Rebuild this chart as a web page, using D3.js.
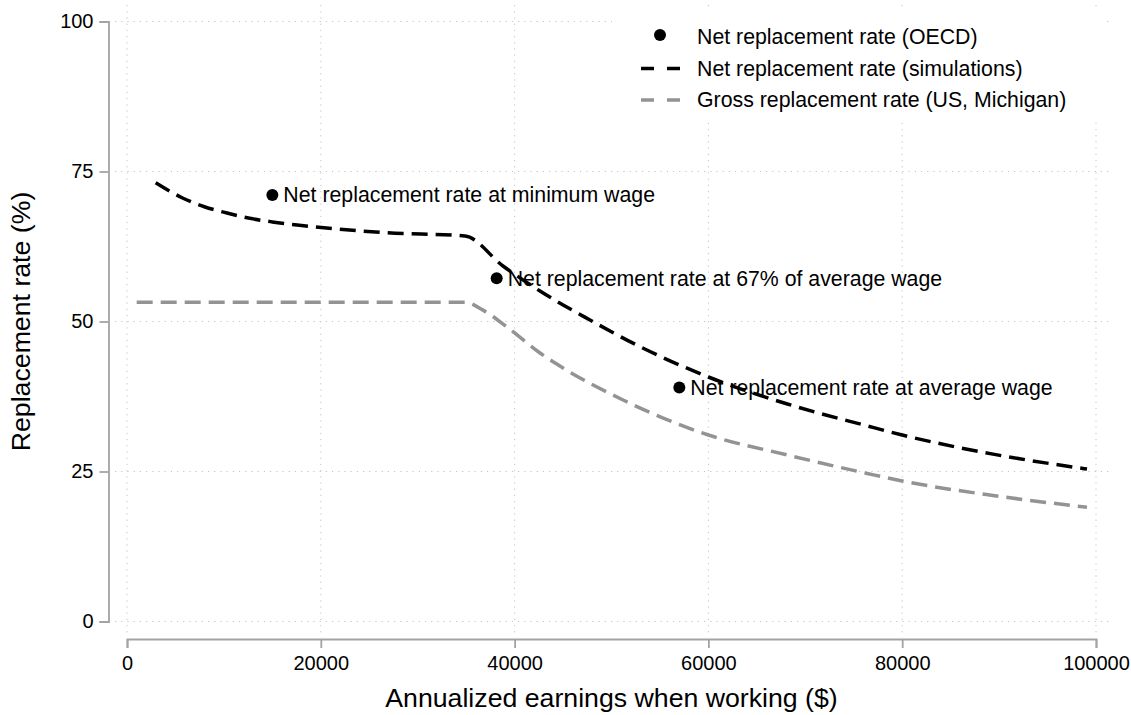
<!DOCTYPE html>
<html>
<head>
<meta charset="utf-8">
<script src="https://cdn.jsdelivr.net/npm/d3@7"></script>
<style>
  body { margin: 0; background: #fff; }
  text { font-family: "Liberation Sans", Arial, Helvetica, sans-serif; fill: #000; }
</style>
</head>
<body>
<script>
// net replacement rate, simulations (black dashed)
var netX = [2960, 5680, 7980, 10320, 12660, 15000, 17570, 26800, 34880, 38800, 42620, 47780, 52600, 60000, 68150, 76400, 80000, 89370, 99070]
var netY = [73.13, 70.63, 69.13, 68.08, 67.2, 66.6, 66.08, 64.8, 64.25, 59.25, 55.08, 50.25, 46.08, 40.75, 36.25, 32.6, 31.08, 27.9, 25.4]

// gross replacement rate, US Michigan (grey dashed)
var grossX = [1000, 34880, 36740, 39180, 42620, 45000, 51190, 60000, 68150, 76400, 80000, 89370, 99070]
var grossY = [53.2, 53.2, 51.9, 49.13, 44.75, 42.25, 36.92, 31.08, 27.75, 24.67, 23.42, 21.0, 19.05]

// OECD points
var oecdX = [15000, 38150, 57000]
var oecdY = [71.1, 57.2, 39.0]
var oecdLabels = ["Net replacement rate at minimum wage", "Net replacement rate at 67% of average wage", "Net replacement rate at average wage"]

var xTicks = [0, 20000, 40000, 60000, 80000, 100000]
var yTicks = [0, 25, 50, 75, 100]

var legendLabels = ["Net replacement rate (OECD)", "Net replacement rate (simulations)", "Gross replacement rate (US, Michigan)"]

var width = 1131, height = 715

var svg = d3.select("body").append("svg")
  .attr("width", width)
  .attr("height", height)

var x = d3.scaleLinear().domain([0, 100000]).range([127, 1096])
var y = d3.scaleLinear().domain([0, 100]).range([621.5, 21.5])

var gridColor = "#c4c4c4", axisColor = "#a3a3a3"
var labelSize = "21.3px"

// grid
svg.selectAll(".vgrid").data(xTicks).enter().append("line")
  .attr("x1", function(d) { return x(d) }).attr("x2", function(d) { return x(d) })
  .attr("y1", 5).attr("y2", 633)
  .attr("stroke", gridColor).attr("stroke-width", 1)
  .attr("stroke-dasharray", "1.2,5")

svg.selectAll(".hgrid").data(yTicks).enter().append("line")
  .attr("x1", 115).attr("x2", 1110)
  .attr("y1", function(d) { return y(d) }).attr("y2", function(d) { return y(d) })
  .attr("stroke", gridColor).attr("stroke-width", 1)
  .attr("stroke-dasharray", "1.2,5")

// axes
var yAxis = svg.append("g")
  .attr("transform", "translate(108.5,0)")
  .call(d3.axisLeft(y).tickValues(yTicks).tickSize(9).tickPadding(6))
var xAxis = svg.append("g")
  .attr("transform", "translate(0,639)")
  .call(d3.axisBottom(x).tickValues(xTicks).tickFormat(d3.format("d")).tickSize(9).tickPadding(8))

;[yAxis, xAxis].forEach(function(a) {
  a.select(".domain").attr("stroke", axisColor).attr("stroke-width", 1.8)
  a.selectAll(".tick line").attr("stroke", axisColor).attr("stroke-width", 1.8)
  a.selectAll(".tick text").style("font-size", "20px")
    .style("font-family", '"Liberation Sans", Arial, sans-serif').attr("fill", "#000")
})

// axis titles
svg.append("text")
  .attr("x", (x(0) + x(100000)) / 2).attr("y", 707)
  .attr("text-anchor", "middle")
  .style("font-size", "26.7px")
  .text("Annualized earnings when working ($)")

svg.append("text")
  .attr("transform", "translate(30," + ((y(0) + y(100)) / 2) + ") rotate(-90)")
  .attr("text-anchor", "middle")
  .style("font-size", "26.7px")
  .text("Replacement rate (%)")

// lines
var line = d3.line()
  .x(function(d) { return x(d[0]) })
  .y(function(d) { return y(d[1]) })
  .curve(d3.curveMonotoneX)

svg.append("path")
  .datum(grossX.map(function(d, i) { return [d, grossY[i]] }))
  .attr("d", line)
  .attr("fill", "none")
  .attr("stroke", "#939393")
  .attr("stroke-width", 3.5)
  .attr("stroke-dasharray", "16,8")

svg.append("path")
  .datum(netX.map(function(d, i) { return [d, netY[i]] }))
  .attr("d", line)
  .attr("fill", "none")
  .attr("stroke", "#000")
  .attr("stroke-width", 3.5)
  .attr("stroke-dasharray", "16,8")

// OECD dots and labels
var pts = svg.selectAll(".pt").data(oecdX).enter().append("g")
  .attr("transform", function(d, i) { return "translate(" + x(d) + "," + y(oecdY[i]) + ")" })

pts.append("circle").attr("r", 6).attr("fill", "#000")
pts.append("text")
  .attr("x", 11).attr("y", 7.5)
  .style("font-size", labelSize)
  .text(function(d, i) { return oecdLabels[i] })

// legend
var legend = svg.append("g")
legend.append("rect")
  .attr("x", 612).attr("y", 11).attr("width", 495).attr("height", 111)
  .attr("fill", "#fff")

var rows = legend.selectAll(".row").data(legendLabels).enter().append("g")
  .attr("transform", function(d, i) { return "translate(0," + (36 + i * 31.5) + ")" })

rows.append("text")
  .attr("x", 697).attr("y", 8)
  .style("font-size", labelSize)
  .text(function(d) { return d })

rows.filter(function(d, i) { return i === 0 }).append("circle")
  .attr("cx", 660).attr("cy", -1).attr("r", 6).attr("fill", "#000")

rows.filter(function(d, i) { return i > 0 }).append("line")
  .attr("x1", 641).attr("x2", 680).attr("y1", 1).attr("y2", 1)
  .attr("stroke", function(d, i) { return i === 0 ? "#000" : "#939393" })
  .attr("stroke-width", 3.5)
  .attr("stroke-dasharray", "13,13")
</script>
</body>
</html>
